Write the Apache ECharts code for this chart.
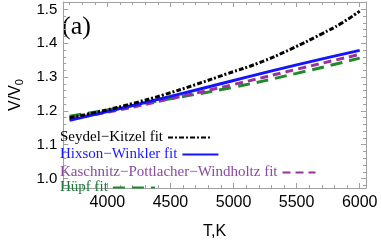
<!DOCTYPE html>
<html><head><meta charset="utf-8">
<script src="https://cdn.jsdelivr.net/npm/echarts@6/dist/echarts.min.js"></script>
<style>html,body{margin:0;padding:0;background:#fff}#c{width:381px;height:245px}</style>
</head><body><div id="c"></div>
<script>
var temps = [3700, 4000, 4500, 5000, 5500, 6000];
var tempsBlack = [3700, 3950, 4200, 4450, 4700, 4950, 5200, 5450, 5700, 5850, 6000];
var seydelKitzel = [1.180, 1.199, 1.222, 1.248, 1.278, 1.310, 1.342, 1.382, 1.428, 1.458, 1.495];
var hixsonWinkler = [1.172, 1.198, 1.243, 1.290, 1.336, 1.379];
var kaschnitz = [1.178, 1.196, 1.236, 1.278, 1.323, 1.367];
var huepf = [1.184, 1.203, 1.236, 1.270, 1.311, 1.356];
var seriesNames = ['Seydel\u2212Kitzel fit', 'Hixson\u2212Winkler fit', 'Kaschnitz\u2212Pottlacher\u2212Windholtz fit', 'H\u00fcpf fit'];
var xTicks = [4000, 4500, 5000, 5500, 6000];
var xMinorTicks = [3700, 3800, 3900, 4100, 4200, 4300, 4400, 4600, 4700, 4800, 4900, 5100, 5200, 5300, 5400, 5600, 5700, 5800, 5900, 6000];
var yTicks = [1.0, 1.1, 1.2, 1.3, 1.4, 1.5];
var yMinorTicks = [0.98, 1.02, 1.04, 1.06, 1.08, 1.12, 1.14, 1.16, 1.18, 1.22, 1.24, 1.26, 1.28, 1.32, 1.34, 1.36, 1.38, 1.42, 1.44, 1.46, 1.48, 1.52];

function pairs(xs, ys){ return xs.map(function(x,i){return [x, ys[i]];}); }

var axisGray = '#a0a0a0';
var X_MIN = 3650, X_MAX = 6050, Y_MIN = 0.972, Y_MAX = 1.522;

function xAx(pos, ticks, len, labels, line){
  return {type:'value', position:pos, min:X_MIN, max:X_MAX,
    axisLine:{show:line, lineStyle:{color:axisGray, width:1}},
    axisTick:{show:true, inside:true, length:len, customValues:ticks, lineStyle:{color:axisGray}},
    axisLabel:{show:labels, customValues:ticks, color:'#000', fontSize:16, fontFamily:'Liberation Sans', margin:7,
      formatter:function(v){return String(v);}},
    splitLine:{show:false}};
}
function yAx(pos, ticks, len, labels, line){
  return {type:'value', position:pos, min:Y_MIN, max:Y_MAX,
    axisLine:{show:line, lineStyle:{color:axisGray, width:1}},
    axisTick:{show:true, inside:true, length:len, customValues:ticks, lineStyle:{color:axisGray}},
    axisLabel:{show:labels, customValues:ticks, color:'#000', fontSize:15, fontFamily:'Liberation Sans', margin:6,
      formatter:function(v){return v.toFixed(1);}},
    splitLine:{show:false}};
}

var xs = [xAx('bottom', xTicks, 5, true, true), xAx('bottom', xMinorTicks, 3, false, false),
          xAx('top', xTicks, 5, false, true), xAx('top', xMinorTicks, 3, false, false)];
xs[0].name = 'T,K'; xs[0].nameLocation = 'middle'; xs[0].nameGap = 36;
xs[0].nameTextStyle = {color:'#000', fontSize:16, fontFamily:'Liberation Sans'};
var ys = [yAx('left', yTicks, 5, true, true), yAx('left', yMinorTicks, 3, false, false),
          yAx('right', yTicks, 5, false, true), yAx('right', yMinorTicks, 3, false, false)];
ys[0].name = 'V/V{s|0}'; ys[0].nameLocation = 'middle'; ys[0].nameGap = 28; ys[0].nameRotate = 90;
ys[0].nameTextStyle = {color:'#000', fontSize:16, fontFamily:'Liberation Sans', rich:{s:{fontSize:11, verticalAlign:'bottom', padding:[8,0,0,0], fontFamily:'Liberation Sans'}}};

var colors = ['#000000', '#1414ff', '#99339a', '#1e8a2a'];
var textColors = ['#000000', '#1a1aff', '#8a4aa0', '#1c7a3a'];
var dashes = [[5,2,2,2], 'solid', [8,5], [12,7]];
var dataSets = [pairs(tempsBlack, seydelKitzel), pairs(temps, hixsonWinkler), pairs(temps, kaschnitz), pairs(temps, huepf)];
var order = [3, 2, 1, 0];
var series = order.map(function(i){
  return {name:seriesNames[i], type:'line', smooth:true, symbol:'none', showSymbol:false, data:dataSets[i],
    xAxisIndex:0, yAxisIndex:0, lineStyle:{color:colors[i], width:3, type:dashes[i]}, itemStyle:{color:colors[i]},
    z: 5 - i, animation:false};
});

var legendTops = [130, 147, 165, 180];
var legendWidths = [44, 36, 33, 42];
var legends = seriesNames.map(function(n, i){
  return {data:[n], left:60, top:legendTops[i], align:'right', orient:'vertical', padding:0,
    itemWidth:legendWidths[i], itemHeight:12, itemGap:0, selectedMode:false, z:20 + i,
    itemStyle:{opacity:0, borderWidth:0},
    textStyle:{color:textColors[i], fontSize:15, fontFamily:'Liberation Serif', padding:[0,0,0,0]}};
});

var chart = echarts.init(document.getElementById('c'), null, {renderer:'canvas'});
chart.setOption({
  animation:false,
  backgroundColor:'#fff',
  grid:{left:52, right:15, top:2, bottom:49, containLabel:false},
  xAxis:xs, yAxis:ys,
  legend:legends,
  series:series,
  graphic:[{type:'text', left:62, top:14, style:{text:'(a)', fill:'#000', font:'26px "Liberation Serif"'}}]
});
</script></body></html>
